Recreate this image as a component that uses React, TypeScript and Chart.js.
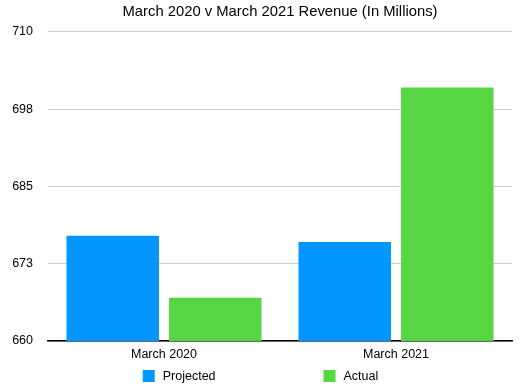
import React, { useEffect, useRef } from "react";
import { Chart, registerables } from "chart.js";

Chart.register(...registerables);

const categories = ["March 2020", "March 2021"];
const projected = [677, 676];
const actual = [667, 701];
const seriesLabels = ["Projected", "Actual"];
const seriesColors = ["#0396FF", "#57D644"];
const yMin = 660;
const yMax = 710;
const yStep = 12.5;

const FONT = "'Liberation Sans', Arial, Helvetica, sans-serif";

const bottomLegend = {
  id: "bottomLegend",
  afterDraw(chart: any) {
    const ctx = chart.ctx;
    const size = 12.5;
    const box = 12;
    const textGap = 8;
    const itemGap = 108;
    ctx.save();
    ctx.font = `${size}px ${FONT}`;
    const items = chart.data.datasets.map((d: any) => ({
      label: d.label,
      color: d.backgroundColor,
      w: box + textGap + ctx.measureText(d.label).width,
    }));
    const total = items.reduce((s: number, it: any) => s + it.w, 0) + itemGap * (items.length - 1);
    let x = (chart.width - total) / 2;
    const y = chart.height - 15;
    ctx.textBaseline = "middle";
    ctx.textAlign = "left";
    items.forEach((it: any) => {
      ctx.fillStyle = it.color;
      ctx.fillRect(x, y - box / 2, box, box);
      ctx.fillStyle = "#000";
      ctx.fillText(it.label, x + box + textGap, y + 0.5);
      x += it.w + itemGap;
    });
    ctx.restore();
  },
};

export default function App() {
  const ref = useRef<HTMLCanvasElement | null>(null);
  useEffect(() => {
    if (!ref.current) return;
    const chart = new Chart(ref.current, {
      type: "bar",
      data: {
        labels: categories,
        datasets: [
          { label: seriesLabels[0], data: projected, backgroundColor: seriesColors[0] },
          { label: seriesLabels[1], data: actual, backgroundColor: seriesColors[1] },
        ],
      },
      options: {
        animation: false,
        responsive: false,
        maintainAspectRatio: false,
        layout: { autoPadding: false, padding: { left: 12, right: 9, top: 0, bottom: 23 } },
        datasets: {
          bar: { categoryPercentage: 0.884, barPercentage: 0.902 },
        },
        plugins: {
          legend: { display: false },
          tooltip: { enabled: false },
          title: {
            display: true,
            fullSize: false,
            text: "March 2020 v March 2021 Revenue (In Millions)",
            color: "#000",
            font: { family: FONT, size: 14.8, weight: "normal" },
            padding: { top: 3, bottom: 11 },
          },
        },
        scales: {
          x: {
            grid: { display: false, drawTicks: false },
            border: { display: true, color: "#000", width: 1.5 },
            ticks: { color: "#000", font: { family: FONT, size: 12.5 }, padding: 6 },
          },
          y: {
            min: yMin,
            max: yMax,
            grid: { color: "#cccccc", lineWidth: 1, drawTicks: false },
            border: { display: false },
            ticks: {
              stepSize: yStep,
              color: "#000",
              font: { family: FONT, size: 12.5 },
              padding: 15,
              callback: (v: any) => String(Math.round(Number(v))),
            },
            afterFit: (s: any) => {
              s.width = 36;
            },
          },
        },
      },
      plugins: [bottomLegend],
    });
    return () => chart.destroy();
  }, []);
  return (
    <div style={{ position: "fixed", left: 0, top: 0, width: 521, height: 391, background: "#fff" }}>
      <canvas ref={ref} width={521} height={391} style={{ display: "block" }} />
    </div>
  );
}
